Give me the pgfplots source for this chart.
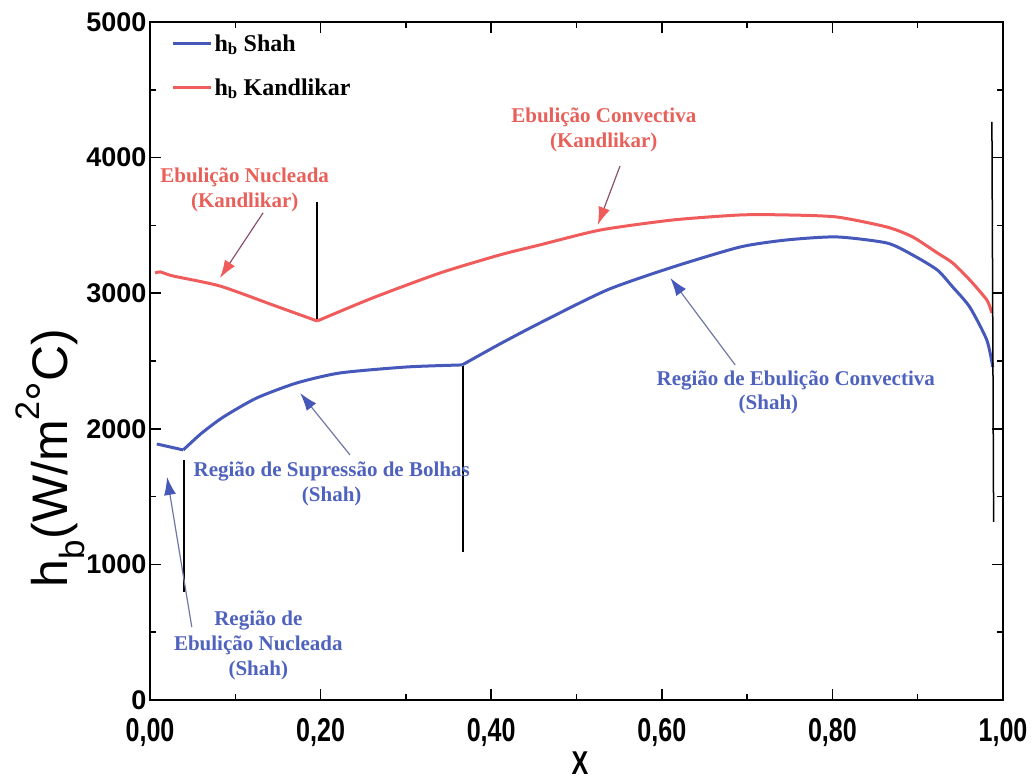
\documentclass[border=0pt]{standalone}
\usepackage{fontspec}
\setmainfont{Liberation Serif}
\newfontfamily\sansf{Liberation Sans}
\newfontfamily\condf[FakeStretch=0.76]{Liberation Sans}
\usepackage{pgfplots}
\pgfplotsset{compat=1.18}
\usetikzlibrary{arrows.meta}
\definecolor{cblue}{RGB}{70,88,186}
\definecolor{cred}{RGB}{240,92,92}
\definecolor{tblue}{RGB}{78,98,190}
\definecolor{tred}{RGB}{232,96,90}
\definecolor{ared}{RGB}{140,80,110}
\definecolor{ablue}{RGB}{110,120,165}

\begin{document}
\begin{tikzpicture}
\path[use as bounding box] (-150pt,-83pt) rectangle (886pt,700pt);
\begin{axis}[
  scale only axis,
  width=853pt, height=678pt,
  xmin=0, xmax=1, ymin=0, ymax=5000,
  clip=false,
  xtick={0,0.2,0.4,0.6,0.8,1},
  minor xtick={0.1,0.3,0.5,0.7,0.9},
  ytick={0,1000,2000,3000,4000,5000},
  minor ytick={500,1500,2500,3500,4500},
  xtick pos=both, ytick pos=both,
  tick align=inside,
  major tick length=11pt, minor tick length=6pt,
  axis line style={line width=1.8pt},
  every tick/.style={line width=1.5pt, black},
  scaled ticks=false,
  xticklabel style={/pgf/number format/.cd, fixed, fixed zerofill, precision=2, use comma, assume math mode=true, /tikz/.cd, font=\condf\bfseries\fontsize{33}{33}\selectfont, yshift=-15pt},
  yticklabel style={/pgf/number format/.cd, 1000 sep={}, assume math mode=true, /tikz/.cd, font=\sansf\bfseries\fontsize{27}{27}\selectfont},
  xlabel={X},
  xlabel style={at={(axis description cs:0.504,-0.076)}, anchor=north, inner sep=0pt, font=\condf\bfseries\fontsize{33}{33}\selectfont},
  ylabel={h\textsubscript{b}(W/m\raisebox{0.55em}{\fontsize{34}{34}\selectfont 2}\raisebox{0.12em}{°}C)},
  ylabel style={at={(axis description cs:-0.117,0.357)}, anchor=center, font=\sansf\fontsize{50}{50}\selectfont},
  legend style={at={(axis description cs:0.025,0.985)}, anchor=north west, draw=none, fill=none,
    font=\bfseries\fontsize{24}{28}\selectfont, inner sep=0pt, row sep=22pt},
  legend cell align=left,
  legend image code/.code={\draw[#1, line width=3pt] (0pt,0pt) -- (38pt,0pt);},
]
% Shah
\addplot[cblue, line width=3pt, line join=round] coordinates {
(0.008,1888) (0.039,1844)
};
\addlegendentry{h\textsubscript{b} Shah}
\addplot[cblue, line width=3pt, smooth, tension=0.4, forget plot] coordinates {
(0.039,1844) (0.060,1965) (0.086,2087) (0.125,2227) (0.172,2338)
(0.223,2412) (0.301,2456) (0.366,2471)
};
\addplot[cblue, line width=3pt, smooth, tension=0.4, forget plot] coordinates {
(0.366,2471) (0.410,2625) (0.457,2780) (0.536,3024)
(0.613,3193) (0.692,3341) (0.747,3393) (0.805,3415) (0.864,3370) (0.894,3282)
(0.923,3171) (0.941,3046) (0.961,2898) (0.981,2655) (0.988,2456)
};
% Kandlikar
\addplot[cred, line width=3pt, smooth, tension=0.4] coordinates {
(0.006,3149) (0.012,3157) (0.027,3127) (0.082,3053) (0.144,2913) (0.196,2795)
};
\addlegendentry{h\textsubscript{b} Kandlikar}
\addplot[cred, line width=3pt, smooth, tension=0.4, forget plot] coordinates {
(0.196,2795) (0.261,2965) (0.340,3149) (0.410,3282) (0.457,3356) (0.528,3466) (0.613,3540)
(0.692,3577) (0.747,3577) (0.805,3562) (0.864,3488) (0.894,3415) (0.923,3297)
(0.941,3223) (0.961,3098) (0.981,2950) (0.987,2854)
};

% separators
\draw[black, line width=1.5pt] (axis cs:0.040,1770) -- (axis cs:0.040,800);
\draw[black, line width=1.5pt] (axis cs:0.196,3673) -- (axis cs:0.196,2810);
\draw[black, line width=1.5pt] (axis cs:0.367,2463) -- (axis cs:0.367,1092);
\draw[black, line width=1.5pt] (axis cs:0.987,4263) -- (axis cs:0.989,1313);

% annotations
\node[tred, font=\bfseries\fontsize{21}{25}\selectfont, align=center] at (axis cs:0.111,3761) {Ebulição Nucleada\\(Kandlikar)};
\node[tred, font=\bfseries\fontsize{21}{25}\selectfont, align=center] at (axis cs:0.532,4204) {Ebulição Convectiva\\(Kandlikar)};
\node[tblue, font=\bfseries\fontsize{21}{25}\selectfont, align=center] at (axis cs:0.213,1593) {Região de Supressão de Bolhas\\(Shah)};
\node[tblue, font=\bfseries\fontsize{21}{25}\selectfont] at (axis cs:0.757,2353) {Região de Ebulição Convectiva};
\node[tblue, font=\bfseries\fontsize{21}{25}\selectfont] at (axis cs:0.725,2176) {(Shah)};
\node[tblue, font=\bfseries\fontsize{21}{25}\selectfont, align=center] at (axis cs:0.127,406) {Região de\\Ebulição Nucleada\\(Shah)};

\draw[ared, line width=1.2pt, -{Latex[length=18pt, width=12pt, color=cred]}] (axis cs:0.1325,3592) -- (axis cs:0.082,3112);
\draw[ared, line width=1.2pt, -{Latex[length=18pt, width=12pt, color=cred]}] (axis cs:0.551,3938) -- (axis cs:0.525,3503);
\draw[ablue, line width=1.2pt, -{Latex[length=18pt, width=12pt, color=cblue]}] (axis cs:0.2345,1807) -- (axis cs:0.176,2264);
\draw[ablue, line width=1.2pt, -{Latex[length=18pt, width=12pt, color=cblue]}] (axis cs:0.686,2471) -- (axis cs:0.610,3112);
\draw[ablue, line width=1.2pt, -{Latex[length=18pt, width=12pt, color=cblue]}] (axis cs:0.049,538) -- (axis cs:0.020,1645);
\end{axis}
\end{tikzpicture}
\end{document}
